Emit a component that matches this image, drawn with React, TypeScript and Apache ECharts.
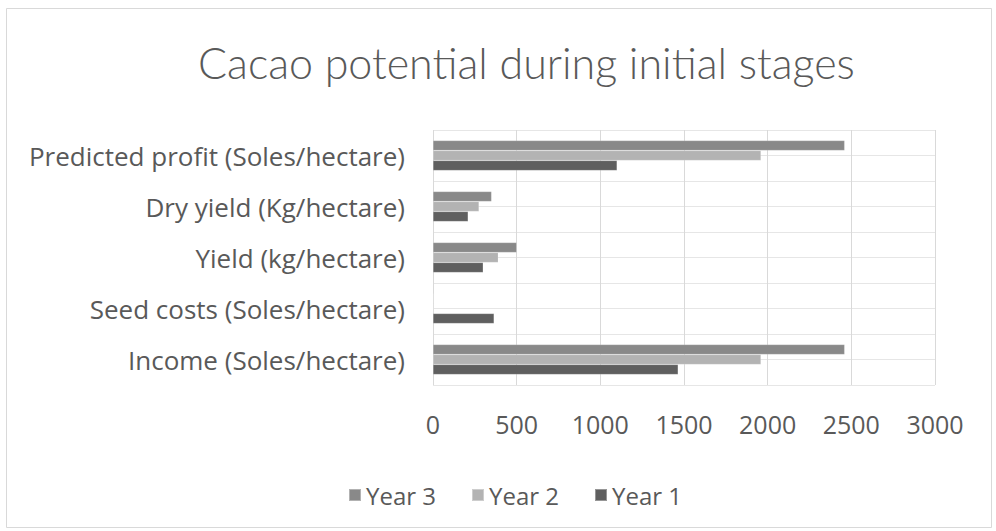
import React, { useEffect, useRef } from "react";
import * as echarts from "echarts";

// Categories, bottom to top on the y axis
const categories = [
  "Income (Soles/hectare)",
  "Seed costs (Soles/hectare)",
  "Yield (kg/hectare)",
  "Dry yield (Kg/hectare)",
  "Predicted profit (Soles/hectare)",
];

const year1 = [1465, 365, 300, 210, 1100];
const year2 = [1960, 0, 390, 275, 1960];
const year3 = [2460, 0, 500, 350, 2460];

const xTicks = [0, 500, 1000, 1500, 2000, 2500, 3000];

const TITLE_FONT = "Lato, 'Open Sans', sans-serif";
const FONT = "'Open Sans', sans-serif";
const TEXT = "#595959";

export default function App() {
  const ref = useRef<HTMLDivElement>(null);

  useEffect(() => {
    if (!ref.current) return;
    const chart = echarts.init(ref.current, null, { renderer: "svg" });
    const barStyle = (color: string) => ({
      color,
      borderColor: "rgba(255,255,255,0.35)",
      borderWidth: 0.5,
    });
    chart.setOption({
      animation: false,
      backgroundColor: "#ffffff",
      title: {
        text: "Cacao potential during initial stages",
        left: 193,
        top: 36,
        textStyle: {
          fontFamily: TITLE_FONT,
          fontWeight: 300,
          fontSize: 43,
          color: TEXT,
        },
      },
      legend: {
        data: ["Year 3", "Year 2", "Year 1"],
        top: 478,
        left: 343,
        itemWidth: 12,
        itemHeight: 12,
        itemGap: 35,
        icon: "rect",
        textStyle: { fontFamily: FONT, fontSize: 24, color: TEXT },
      },
      grid: { left: 433, right: 61, top: 130, bottom: 146 },
      xAxis: {
        type: "value",
        min: 0,
        max: xTicks[xTicks.length - 1],
        interval: 500,
        axisLine: { show: false },
        axisTick: { show: false },
        axisLabel: {
          fontFamily: FONT,
          fontSize: 25,
          color: TEXT,
          margin: 26,
          formatter: (v: number) => String(v),
        },
        splitLine: { lineStyle: { color: "#d9d9d9", width: 1 } },
      },
      yAxis: [
        {
          type: "category",
          data: categories,
          axisLine: { show: false },
          axisTick: { show: false },
          splitLine: { show: false },
          axisLabel: {
            fontFamily: FONT,
            fontSize: 26,
            color: TEXT,
            margin: 28,
          },
        },
        {
          // half-category gridlines
          type: "value",
          min: 0,
          max: 10,
          interval: 1,
          position: "left",
          axisLine: { show: false },
          axisTick: { show: false },
          axisLabel: { show: false },
          splitLine: { lineStyle: { color: "#e6e6e6", width: 1 } },
        },
      ],
      series: [
        {
          name: "Year 3",
          type: "bar",
          data: year3,
          barWidth: 10,
          barGap: "0%",
          itemStyle: barStyle("#898989"),
        },
        {
          name: "Year 2",
          type: "bar",
          data: year2,
          barWidth: 10,
          barGap: "0%",
          itemStyle: barStyle("#b3b3b3"),
        },
        {
          name: "Year 1",
          type: "bar",
          data: year1,
          barWidth: 10,
          barGap: "0%",
          itemStyle: barStyle("#5f5f5f"),
        },
      ],
      graphic: [
        {
          type: "rect",
          shape: { x: 6.5, y: 8.5, width: 985, height: 519 },
          style: { fill: "none", stroke: "#d9d9d9", lineWidth: 1 },
          silent: true,
        },
      ],
    });
    return () => chart.dispose();
  }, []);

  return (
    <div
      ref={ref}
      style={{ position: "fixed", left: 0, top: 0, width: 996, height: 531 }}
    />
  );
}
